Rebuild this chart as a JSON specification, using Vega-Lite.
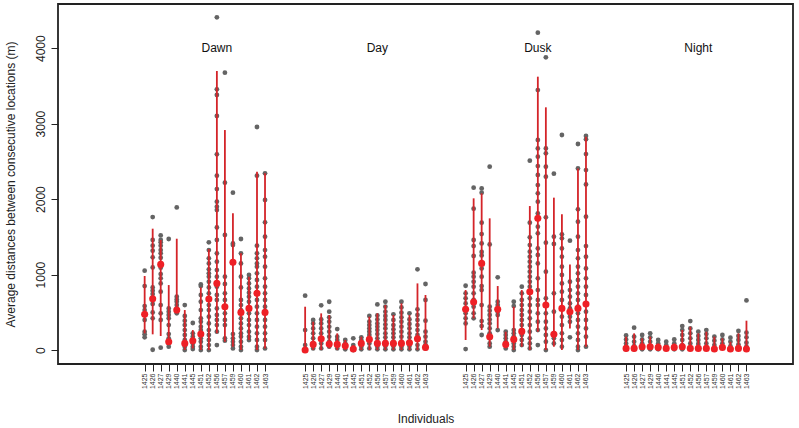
{
"$schema": "https://vega.github.io/schema/vega-lite/v6.json",
"width": 735, "height": 360,
"autosize": "none",
"padding": {"left": 58, "top": 4, "right": 6, "bottom": 64},
"background": "white",
"config": {
  "view": {"stroke": "#222", "strokeWidth": 1.8},
  "font": "Liberation Sans",
  "axis": {"domain": false, "grid": false, "tickColor": "#222", "labelColor": "#222", "titleColor": "#222", "titleFontWeight": "normal", "titleFont": "Liberation Sans", "labelFont": "Liberation Sans"}
},
"datasets": {"d": [
{"k":"Dawn|1425","vals":[1051,848,583,530,464,398,243,208,168],"mean":473,"lo":221,"hi":981},
{"k":"Dawn|1426","vals":[1762,1458,1383,1316,1228,1095,830,786,742,680,610,499,420,4],"mean":680,"lo":208,"hi":1608},
{"k":"Dawn|1427","vals":[1519,1458,1427,1383,1325,1281,1223,1148,1091,1007,950,883,773,596,486,398,31],"mean":1135,"lo":186,"hi":1458},
{"k":"Dawn|1429","vals":[1471,552,508,464,420,331,212,155,88,44],"mean":110,"lo":88,"hi":861},
{"k":"Dawn|1440","vals":[1890,707,671,640,596,552,530,486],"mean":530,"lo":486,"hi":1475},
{"k":"Dawn|1441","vals":[596,451,389,331,265,199,133,88,44,0],"mean":88,"lo":0,"hi":530},
{"k":"Dawn|1445","vals":[358,221,177,133,88,44,13],"mean":124,"lo":22,"hi":265},
{"k":"Dawn|1451","vals":[870,848,729,640,530,420,375,309,265,221,155,110,44,0],"mean":212,"lo":0,"hi":830},
{"k":"Dawn|1452","vals":[1427,1325,1215,1148,1069,1016,972,905,830,751,676,596,530,442,353,265,199,133,66,0],"mean":676,"lo":0,"hi":1338},
{"k":"Dawn|1456","vals":[4408,3454,3379,3101,2593,2310,2133,1966,1899,1855,1625,1458,1281,1171,1060,972,839,729,663,552,464,398,331,243,66],"mean":883,"lo":221,"hi":3697},
{"k":"Dawn|1457","vals":[3675,2217,1524,972,875,751,663,574,486,398,331,155,124],"mean":574,"lo":110,"hi":2915},
{"k":"Dawn|1459","vals":[2085,1413,1391,212,155,110,66,22],"mean":1162,"lo":44,"hi":1811},
{"k":"Dawn|1460","vals":[1471,1281,1148,972,830,663,596,530,486,420,353,287,221,177,110,44,0],"mean":499,"lo":0,"hi":1281},
{"k":"Dawn|1461","vals":[994,950,883,817,760,707,640,552,486,398,331,243,177,133],"mean":552,"lo":133,"hi":972},
{"k":"Dawn|1462","vals":[2955,2310,1383,1281,1215,1148,1104,1016,928,839,751,663,574,486,398,309,221,133,44,0],"mean":751,"lo":0,"hi":2363},
{"k":"Dawn|1463","vals":[2341,1988,1692,1502,1325,1237,1104,950,839,751,663,574,486,398,309,221,133,22],"mean":499,"lo":22,"hi":2341},
{"k":"Day|1425","vals":[720,265,66,0],"mean":0,"lo":0,"hi":574},
{"k":"Day|1426","vals":[398,353,287,221,155,88,22],"mean":75,"lo":0,"hi":375},
{"k":"Day|1427","vals":[592,406,353,287,221,155,88,22],"mean":150,"lo":0,"hi":486},
{"k":"Day|1429","vals":[640,508,433,375,309,243,177,110,44],"mean":80,"lo":22,"hi":464},
{"k":"Day|1440","vals":[278,177,133,66,22],"mean":75,"lo":0,"hi":221},
{"k":"Day|1441","vals":[133,88,44,9],"mean":57,"lo":0,"hi":133},
{"k":"Day|1445","vals":[155,66,0],"mean":13,"lo":0,"hi":66},
{"k":"Day|1451","vals":[168,133,88,44,9],"mean":88,"lo":0,"hi":177},
{"k":"Day|1452","vals":[451,375,331,287,243,199,155,88,22],"mean":141,"lo":0,"hi":442},
{"k":"Day|1456","vals":[605,459,406,353,309,265,212,155,97,44,9],"mean":88,"lo":0,"hi":486},
{"k":"Day|1457","vals":[640,574,508,451,398,340,287,221,168,110,53,9],"mean":88,"lo":0,"hi":596},
{"k":"Day|1459","vals":[473,398,331,274,221,168,110,53,9],"mean":88,"lo":0,"hi":464},
{"k":"Day|1460","vals":[640,565,495,433,375,309,243,177,110,44,9],"mean":88,"lo":0,"hi":618},
{"k":"Day|1461","vals":[486,406,345,287,221,168,110,53,9],"mean":97,"lo":0,"hi":464},
{"k":"Day|1462","vals":[1069,539,464,398,331,265,199,133,66,9],"mean":150,"lo":0,"hi":883},
{"k":"Day|1463","vals":[875,663,389,243,177,110,66,22],"mean":35,"lo":0,"hi":729},
{"k":"Dusk|1425","vals":[852,751,685,618,552,486,420,353,13],"mean":539,"lo":133,"hi":795},
{"k":"Dusk|1426","vals":[2151,1873,1458,1378,1246,1025,972,905,839,751,663,574,486,420],"mean":636,"lo":420,"hi":2010},
{"k":"Dusk|1427","vals":[2142,2085,1687,1537,1413,1299,1254,1148,1082,972,848,795,596,384,318,199],"mean":1148,"lo":265,"hi":2076},
{"k":"Dusk|1429","vals":[2429,1400,574,521,464,406,353,287,221,155,88,44],"mean":177,"lo":44,"hi":1745},
{"k":"Dusk|1440","vals":[963,640,596,552,508,464,265],"mean":539,"lo":287,"hi":848},
{"k":"Dusk|1441","vals":[243,199,155,110,75,22],"mean":75,"lo":22,"hi":243},
{"k":"Dusk|1445","vals":[640,583,265,221,177,133,88,44,0],"mean":141,"lo":0,"hi":574},
{"k":"Dusk|1451","vals":[839,751,663,596,530,464,398,331,265,199,133,66],"mean":247,"lo":44,"hi":795},
{"k":"Dusk|1452","vals":[2509,1687,1493,1391,1303,1237,1171,1104,1038,972,905,839,773,685,596,508,420,331,243,155,88,22],"mean":773,"lo":0,"hi":1908},
{"k":"Dusk|1456","vals":[4205,3445,2783,2672,2562,2438,2319,2186,2076,1966,1811,1634,1546,1347,1259,1148,950,795,663,596,486,375,265,66],"mean":1745,"lo":243,"hi":3622},
{"k":"Dusk|1457","vals":[3878,2672,2606,2429,2297,1758,1422,1038,685,596,486,375,287,199,110,0],"mean":596,"lo":0,"hi":3216},
{"k":"Dusk|1459","vals":[2337,1502,1405,751,508,221,155,88],"mean":208,"lo":44,"hi":2019},
{"k":"Dusk|1460","vals":[2849,1533,1480,1347,1237,1104,994,883,773,663,552,442,331,221,133,44],"mean":552,"lo":0,"hi":1798},
{"k":"Dusk|1461","vals":[1449,905,795,707,618,552,508,442,375,168],"mean":508,"lo":287,"hi":1135},
{"k":"Dusk|1462","vals":[2730,2407,1864,1700,1502,1325,1215,1104,1016,928,839,751,663,574,486,398,309,221,133,44,0],"mean":552,"lo":0,"hi":2407},
{"k":"Dusk|1463","vals":[2836,2792,2597,2385,2195,1767,1378,1237,1082,950,839,729,618,508,398,287,177,44],"mean":610,"lo":44,"hi":2827},
{"k":"Night|1425","vals":[194,141,88,44,9],"mean":22,"lo":0,"hi":177},
{"k":"Night|1426","vals":[296,177,110,53,9],"mean":22,"lo":0,"hi":221},
{"k":"Night|1427","vals":[199,141,88,44,9],"mean":44,"lo":0,"hi":155},
{"k":"Night|1429","vals":[221,168,110,53,9],"mean":44,"lo":0,"hi":177},
{"k":"Night|1440","vals":[133,88,44,9],"mean":35,"lo":0,"hi":88},
{"k":"Night|1441","vals":[110,66,22],"mean":22,"lo":0,"hi":66},
{"k":"Night|1445","vals":[141,88,44,9],"mean":35,"lo":0,"hi":88},
{"k":"Night|1451","vals":[318,265,199,133,66,9],"mean":44,"lo":0,"hi":265},
{"k":"Night|1452","vals":[384,287,221,155,88,22],"mean":22,"lo":0,"hi":309},
{"k":"Night|1456","vals":[243,186,133,80,22],"mean":22,"lo":0,"hi":221},
{"k":"Night|1457","vals":[265,212,155,88,35],"mean":22,"lo":0,"hi":243},
{"k":"Night|1459","vals":[177,124,66,13],"mean":13,"lo":0,"hi":177},
{"k":"Night|1460","vals":[199,141,88,35],"mean":35,"lo":0,"hi":155},
{"k":"Night|1461","vals":[164,110,53],"mean":13,"lo":0,"hi":110},
{"k":"Night|1462","vals":[252,186,133,75,22],"mean":22,"lo":0,"hi":221},
{"k":"Night|1463","vals":[658,230,168,97,44],"mean":13,"lo":0,"hi":389}
]},
"data": {"name": "d"},
"encoding": {
  "x": {"field": "k", "type": "nominal",
    "scale": {"type": "point", "padding": 0.8, "domain": ["L1","L2","L3","L4","L5","L6","L7","L8","L9","L10",
      "Dawn|1425","Dawn|1426","Dawn|1427","Dawn|1429","Dawn|1440","Dawn|1441","Dawn|1445","Dawn|1451","Dawn|1452","Dawn|1456","Dawn|1457","Dawn|1459","Dawn|1460","Dawn|1461","Dawn|1462","Dawn|1463",
      "G1","G2","G3","G4",
      "Day|1425","Day|1426","Day|1427","Day|1429","Day|1440","Day|1441","Day|1445","Day|1451","Day|1452","Day|1456","Day|1457","Day|1459","Day|1460","Day|1461","Day|1462","Day|1463",
      "G5","G6","G7","G8",
      "Dusk|1425","Dusk|1426","Dusk|1427","Dusk|1429","Dusk|1440","Dusk|1441","Dusk|1445","Dusk|1451","Dusk|1452","Dusk|1456","Dusk|1457","Dusk|1459","Dusk|1460","Dusk|1461","Dusk|1462","Dusk|1463",
      "G9","G10","G11","G12",
      "Night|1425","Night|1426","Night|1427","Night|1429","Night|1440","Night|1441","Night|1445","Night|1451","Night|1452","Night|1456","Night|1457","Night|1459","Night|1460","Night|1461","Night|1462","Night|1463",
      "R1","R2","R3","R4","R5"]},
    "axis": {"values": [
      "Dawn|1425","Dawn|1426","Dawn|1427","Dawn|1429","Dawn|1440","Dawn|1441","Dawn|1445","Dawn|1451","Dawn|1452","Dawn|1456","Dawn|1457","Dawn|1459","Dawn|1460","Dawn|1461","Dawn|1462","Dawn|1463",
      "Day|1425","Day|1426","Day|1427","Day|1429","Day|1440","Day|1441","Day|1445","Day|1451","Day|1452","Day|1456","Day|1457","Day|1459","Day|1460","Day|1461","Day|1462","Day|1463",
      "Dusk|1425","Dusk|1426","Dusk|1427","Dusk|1429","Dusk|1440","Dusk|1441","Dusk|1445","Dusk|1451","Dusk|1452","Dusk|1456","Dusk|1457","Dusk|1459","Dusk|1460","Dusk|1461","Dusk|1462","Dusk|1463",
      "Night|1425","Night|1426","Night|1427","Night|1429","Night|1440","Night|1441","Night|1445","Night|1451","Night|1452","Night|1456","Night|1457","Night|1459","Night|1460","Night|1461","Night|1462","Night|1463"],
      "labelExpr": "split(datum.value, '|')[1]", "labelAngle": 270, "labelFontSize": 7, "labelColor": "#333", "tickSize": 7, "labelPadding": 2,
      "title": "Individuals", "titleFontSize": 12, "titlePadding": 25}}
},
"layer": [
  {"transform": [{"flatten": ["vals"]}],
   "mark": {"type": "circle", "size": 23, "color": "#646464", "opacity": 1},
   "encoding": {"y": {"field": "vals", "type": "quantitative",
     "scale": {"domain": [-185, 4585], "nice": false, "zero": false},
     "axis": {"values": [0,1000,2000,3000,4000], "format": "d", "labelAngle": 270, "labelFontSize": 12, "tickSize": 7, "labelPadding": 4, "title": "Average distances between consecutive locations (m)", "titleFontSize": 12, "titlePadding": 17}}}},
  {"mark": {"type": "rule", "color": "#d42429", "strokeWidth": 1.8},
   "encoding": {"y": {"field": "lo", "type": "quantitative",
     "scale": {"domain": [-185, 4585], "nice": false, "zero": false},
     "axis": {"values": [0,1000,2000,3000,4000], "format": "d", "labelAngle": 270, "labelFontSize": 12, "tickSize": 7, "labelPadding": 4, "title": "Average distances between consecutive locations (m)", "titleFontSize": 12, "titlePadding": 17}},
     "y2": {"field": "hi"}}},
  {"mark": {"type": "circle", "size": 50, "color": "#ee2026", "opacity": 1},
   "encoding": {"y": {"field": "mean", "type": "quantitative",
     "scale": {"domain": [-185, 4585], "nice": false, "zero": false},
     "axis": {"values": [0,1000,2000,3000,4000], "format": "d", "labelAngle": 270, "labelFontSize": 12, "tickSize": 7, "labelPadding": 4, "title": "Average distances between consecutive locations (m)", "titleFontSize": 12, "titlePadding": 17}}}},
  {"data": {"values": [{"k": "Dawn|1456", "label": "Dawn"}, {"k": "Day|1456", "label": "Day"}, {"k": "Dusk|1456", "label": "Dusk"}, {"k": "Night|1456", "label": "Night"}]},
   "mark": {"type": "text", "fontSize": 12, "color": "#111", "baseline": "middle", "align": "center"},
   "encoding": {"y": {"datum": 4000, "type": "quantitative",
     "scale": {"domain": [-185, 4585], "nice": false, "zero": false},
     "axis": {"values": [0,1000,2000,3000,4000], "format": "d", "labelAngle": 270, "labelFontSize": 12, "tickSize": 7, "labelPadding": 4, "title": "Average distances between consecutive locations (m)", "titleFontSize": 12, "titlePadding": 17}},
     "text": {"field": "label"}}}
]
}
